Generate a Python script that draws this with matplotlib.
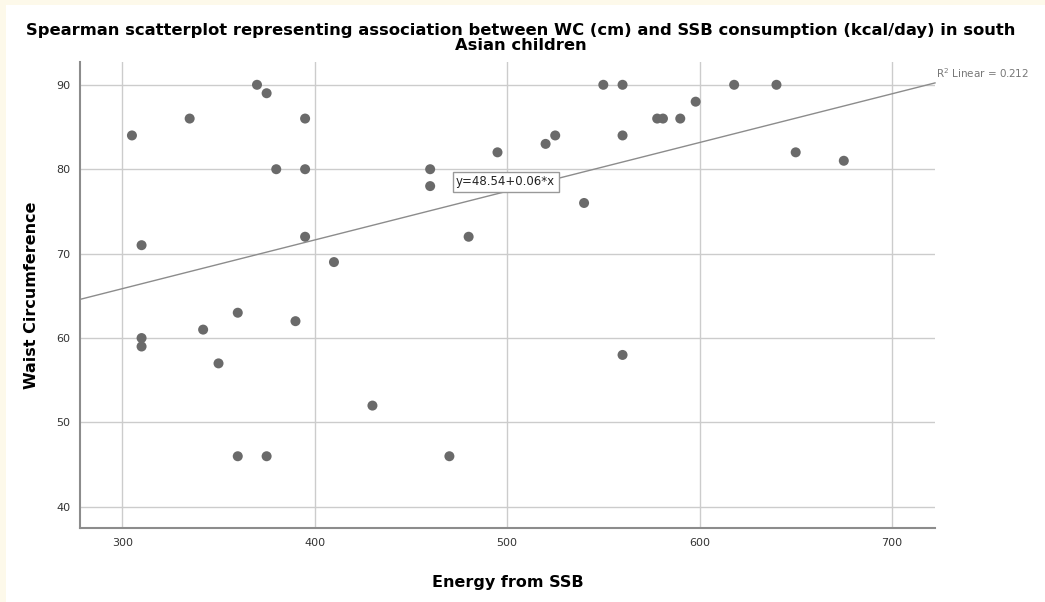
import matplotlib
matplotlib.use('Agg')
import matplotlib.pyplot as plt
from matplotlib.patches import Rectangle

# data
energy_ssb = [305, 310, 310, 310, 335, 342, 350, 360, 360, 370, 375, 375, 380,
              390, 395, 395, 395, 410, 430, 460, 460, 470, 480, 495, 520, 525,
              540, 550, 560, 560, 560, 578, 581, 590, 598, 618, 640, 650, 675]
waist_circ = [84, 71, 60, 59, 86, 61, 57, 63, 46, 90, 89, 46, 80,
              62, 86, 80, 72, 69, 52, 80, 78, 46, 72, 82, 83, 84,
              76, 90, 90, 84, 58, 86, 86, 86, 88, 90, 90, 82, 81]
fit_intercept = 48.54
fit_slope = 0.0577
x_ticks = [300, 400, 500, 600, 700]
y_ticks = [40, 50, 60, 70, 80, 90]
x_range = (278, 722.4)
y_range = (37.5, 92.7)

plt.rcParams['font.family'] = ['DejaVu Sans']

fig = plt.figure(figsize=(10.45, 6.02), dpi=100, facecolor='#fdf9ea')
fig.patches.append(Rectangle((6 / 1045, 0), 1, 1 - 5 / 602,
                             transform=fig.transFigure, facecolor='white',
                             edgecolor='none', zorder=-10))
ax = fig.add_axes([80 / 1045, 1 - 528 / 602, 855 / 1045, 466 / 602])
ax.set_facecolor('white')

ax.set_xlim(*x_range)
ax.set_ylim(*y_range)
ax.set_xticks(x_ticks)
ax.set_yticks(y_ticks)
ax.grid(True, color='#cccccc', linewidth=1)
ax.set_axisbelow(True)
ax.tick_params(length=0, labelsize=8, labelcolor='#333333', pad=7)
for s in ['top', 'right']:
    ax.spines[s].set_visible(False)
for s in ['left', 'bottom']:
    ax.spines[s].set_color('#8c8c8c')
    ax.spines[s].set_linewidth(1.5)

ax.scatter(energy_ssb, waist_circ, s=52, color='#6a6a6a', zorder=3,
           edgecolors='none')

# fit line across the whole x range
lx = list(x_range)
ly = [fit_intercept + fit_slope * v for v in lx]
ax.plot(lx, ly, color='#8c8c8c', linewidth=1, clip_on=False, zorder=2)

ax.text(x_range[1] + 0.5, ly[1] + 1.2, r'R$^2$ Linear = 0.212', fontsize=7.5,
        color='#777777', ha='left', va='center')
ax.text(473.5, 78.5, 'y=48.54+0.06*x', fontsize=8.5, color='#222222',
        ha='left', va='center',
        bbox=dict(boxstyle='square,pad=0.3', facecolor='white',
                  edgecolor='#999999', linewidth=1))

ax.set_xlabel('Energy from SSB', fontsize=11.5, fontweight='bold', labelpad=20)
ax.set_ylabel('Waist Circumference', fontsize=11.5, fontweight='bold',
              labelpad=12)
fig.text(521 / 1045, 1 - 38 / 602,
         'Spearman scatterplot representing association between WC (cm) and SSB consumption (kcal/day) in south\nAsian children',
         ha='center', va='center', fontsize=11.8, fontweight='bold',
         linespacing=0.95)

plt.savefig('out.png', dpi=100, facecolor=fig.get_facecolor())
